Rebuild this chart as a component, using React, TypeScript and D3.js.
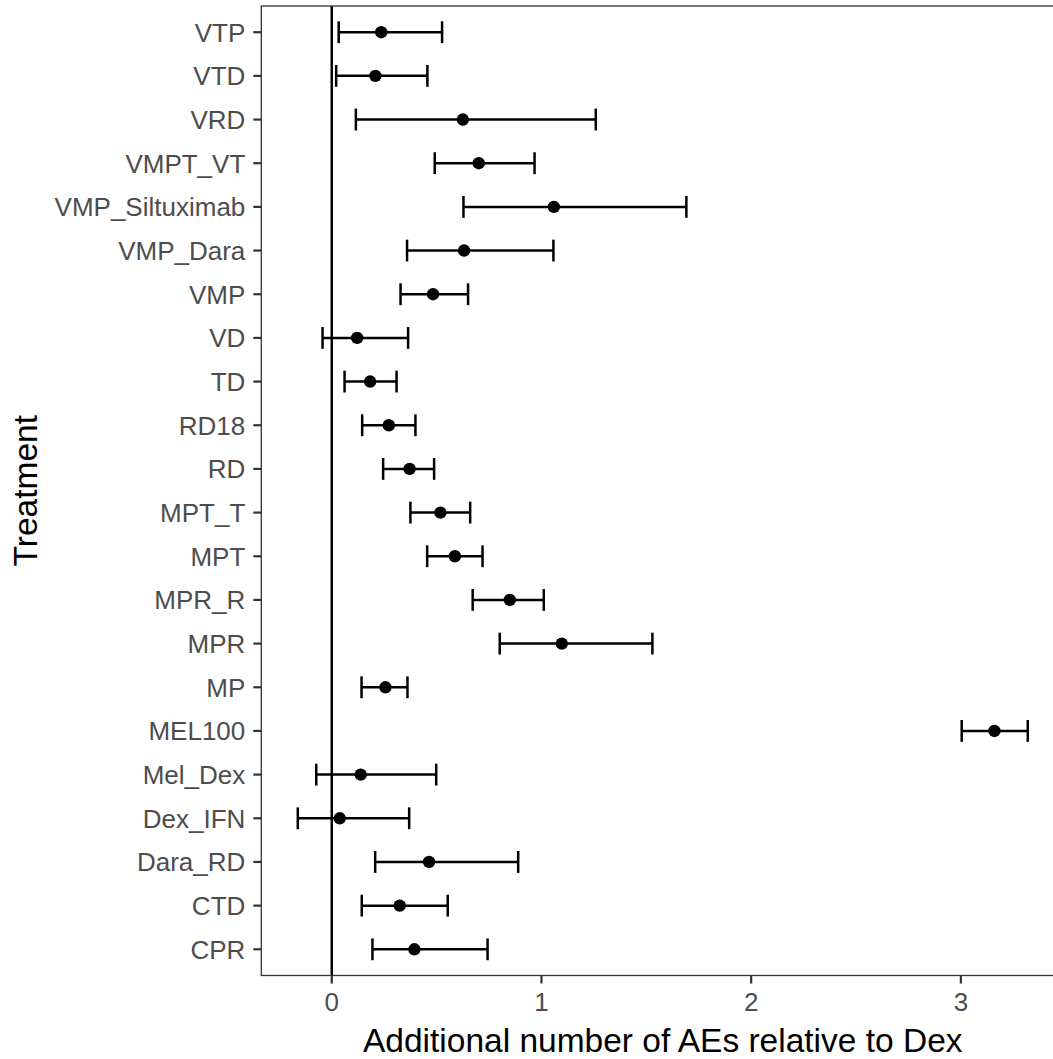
import React from "react";
import * as d3 from "d3";

// treatments, top to bottom as drawn
const treatments = [
  "VTP", "VTD", "VRD", "VMPT_VT", "VMP_Siltuximab", "VMP_Dara", "VMP", "VD",
  "TD", "RD18", "RD", "MPT_T", "MPT", "MPR_R", "MPR", "MP", "MEL100",
  "Mel_Dex", "Dex_IFN", "Dara_RD", "CTD", "CPR",
];

const estimate = [
  0.236, 0.208, 0.625, 0.701, 1.059, 0.631, 0.483, 0.121,
  0.183, 0.272, 0.371, 0.518, 0.587, 0.849, 1.097, 0.256, 3.16,
  0.138, 0.038, 0.464, 0.324, 0.394,
];

const lower = [
  0.033, 0.021, 0.115, 0.491, 0.628, 0.359, 0.328, -0.044,
  0.061, 0.145, 0.245, 0.375, 0.455, 0.672, 0.801, 0.142, 3.004,
  -0.074, -0.162, 0.207, 0.143, 0.194,
];

const upper = [
  0.526, 0.456, 1.259, 0.967, 1.691, 1.057, 0.65, 0.364,
  0.309, 0.399, 0.488, 0.66, 0.719, 1.011, 1.529, 0.361, 3.319,
  0.498, 0.369, 0.889, 0.553, 0.743,
];

const xTicks = [0, 1, 2, 3];

const W = 1053;
const H = 1059;
const panel = { left: 261.3, top: 6, bottom: 975.5 };
const font = "'Liberation Sans', Arial, sans-serif";

const App = () => {
  const rows = treatments.map((t, i) => ({
    t,
    est: estimate[i],
    lo: lower[i],
    hi: upper[i],
  }));

  // ggplot style 5% expansion of the data range
  const minV = d3.min(lower) as number;
  const maxV = d3.max(upper) as number;
  const pad = (maxV - minV) * 0.05;
  const unit = 209.7;
  const x = d3
    .scaleLinear()
    .domain([minV - pad, maxV + pad])
    .range([panel.left, panel.left + (maxV - minV + 2 * pad) * unit]);

  const y = d3
    .scalePoint<string>()
    .domain(treatments)
    .range([panel.top, panel.bottom])
    .padding(0.6);

  const capHalf = y.step() * 0.25;
  const panelRight = x.range()[1];

  return (
    <svg
      width={W}
      height={H}
      style={{ position: "absolute", left: 0, top: 0, background: "#fff" }}
      fontFamily={font}
    >
      <rect x={0} y={0} width={W} height={H} fill="#fff" />

      {/* zero reference line */}
      <line
        x1={x(0)}
        x2={x(0)}
        y1={panel.top}
        y2={panel.bottom}
        stroke="#000"
        strokeWidth={2.5}
      />

      {/* error bars */}
      {rows.map((d) => {
        const cy = y(d.t) as number;
        return (
          <g key={d.t} stroke="#000" strokeWidth={2.5}>
            <line x1={x(d.lo)} x2={x(d.hi)} y1={cy} y2={cy} />
            <line x1={x(d.lo)} x2={x(d.lo)} y1={cy - capHalf} y2={cy + capHalf} />
            <line x1={x(d.hi)} x2={x(d.hi)} y1={cy - capHalf} y2={cy + capHalf} />
          </g>
        );
      })}

      {/* points */}
      {rows.map((d) => (
        <circle key={d.t} cx={x(d.est)} cy={y(d.t) as number} r={6.2} fill="#000" />
      ))}

      {/* panel border */}
      <rect
        x={panel.left}
        y={panel.top}
        width={panelRight - panel.left}
        height={panel.bottom - panel.top}
        fill="none"
        stroke="#333"
        strokeWidth={1.3}
      />

      {/* y axis ticks & labels */}
      {treatments.map((t) => {
        const cy = y(t) as number;
        return (
          <g key={t}>
            <line x1={panel.left - 8} x2={panel.left} y1={cy} y2={cy} stroke="#333" strokeWidth={2.2} />
            <text
              x={panel.left - 16}
              y={cy}
              dy="0.36em"
              textAnchor="end"
              fontSize={26}
              fill="#4d4d4d"
            >
              {t}
            </text>
          </g>
        );
      })}

      {/* x axis ticks & labels */}
      {xTicks.map((v) => (
        <g key={v}>
          <line x1={x(v)} x2={x(v)} y1={panel.bottom} y2={panel.bottom + 8} stroke="#333" strokeWidth={2.2} />
          <text x={x(v)} y={1010.7} textAnchor="middle" fontSize={26} fill="#4d4d4d">
            {v}
          </text>
        </g>
      ))}

      {/* axis titles */}
      <text
        x={(panel.left + panelRight) / 2}
        y={1052}
        textAnchor="middle"
        fontSize={33.5}
        fill="#000"
      >
        Additional number of AEs relative to Dex
      </text>
      <text
        transform={`translate(37, ${(panel.top + panel.bottom) / 2}) rotate(-90)`}
        textAnchor="middle"
        fontSize={33.5}
        fill="#000"
      >
        Treatment
      </text>
    </svg>
  );
};

export default App;
